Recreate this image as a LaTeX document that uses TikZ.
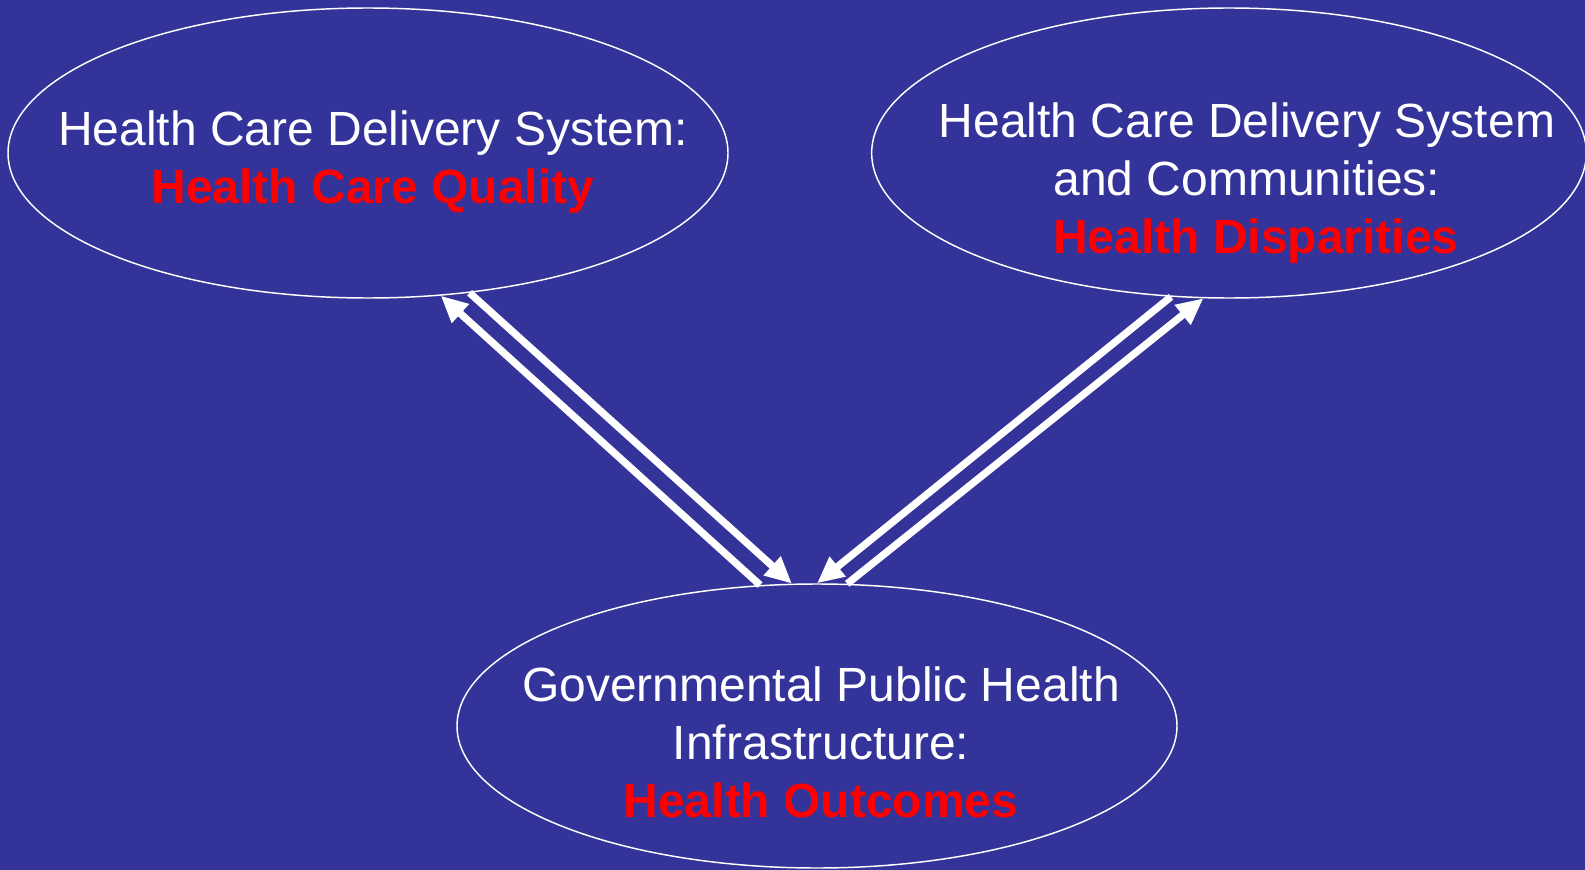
\documentclass[tikz,border=0pt]{standalone}
\usepackage{fontspec}
\setmainfont{Liberation Sans}
\usetikzlibrary{shapes.geometric,arrows.meta}
\definecolor{bgblue}{RGB}{51,51,153}
\definecolor{hired}{RGB}{255,0,0}
\tikzset{every picture/.style={line width=0.75pt}}
\tikzset{
  bubble/.style={draw=white, line width=1.1pt, ellipse, inner sep=0pt},
  bubbletext/.style={text=white, align=center, inner sep=0pt, font=\fontsize{36}{43.5}\selectfont},
  linkarrow/.style={draw=white, line width=5.5pt, -{Triangle[length=20pt,width=18pt]}}
}
\newcommand{\hilite}[1]{\textcolor{hired}{\bfseries #1}}

\begin{document}
\begin{tikzpicture}[x=0.75pt,y=0.75pt,yscale=-1,xscale=1]
%background, sets the size of the diagram
\fill [bgblue] (0,0) rectangle (1585,870);
\useasboundingbox (0,0) rectangle (1585,870);

%Shape: Ellipse [quality]
\node [bubble, minimum width=540pt, minimum height=217.5pt] (quality) at (368,153) {};
%Shape: Ellipse [disparities]
\node [bubble, minimum width=536pt, minimum height=217.5pt] (disparities) at (1229,153) {};
%Shape: Ellipse [outcomes]
\node [bubble, minimum width=540pt, minimum height=213pt] (outcomes) at (817,726) {};

% Text Node
\node [bubbletext] (qualitytext) at (373,162) {Health Care Delivery System:\\\hilite{Health Care Quality}};
% Text Node
\node [bubbletext] (disparitiestext) at (1247,183) {Health Care Delivery System\\and Communities:\\\hspace*{13.5pt}\hilite{Health Disparities}};
% Text Node
\node [bubbletext] (outcomestext) at (821,742) {Governmental Public Health\\Infrastructure:\\\hilite{Health Outcomes}};

%Straight Lines, left pair
\draw [linkarrow] (outcomes.112) -- (quality.-63);
\draw [linkarrow] (quality.-54) -- (outcomes.100);
%Straight Lines, right pair
\draw [linkarrow] (disparities.-112) -- (outcomes.90);
\draw [linkarrow] (outcomes.78) -- (disparities.-100);
\end{tikzpicture}
\end{document}
